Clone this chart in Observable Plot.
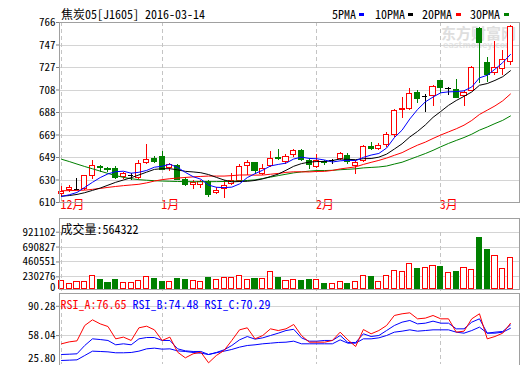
<!DOCTYPE html>
<html><head><meta charset="utf-8">
<script src="https://cdn.jsdelivr.net/npm/d3@7"></script>
<script src="https://cdn.jsdelivr.net/npm/@observablehq/plot@0.6"></script>
<style>
html,body{margin:0;padding:0;background:#fff;}
#wrap{position:relative;width:520px;height:365px;overflow:hidden;background:#fff;font-family:'Noto Sans Mono CJK SC','DejaVu Sans Mono',monospace;font-size:12px;color:#000;}
#wrap svg{position:absolute;left:0;top:0;}
.t{position:absolute;white-space:pre;line-height:12px;}
.sw{position:absolute;width:5px;height:3px;}
</style></head><body>
<div id="wrap">
 <div class="t" style="left:441px;top:25px;font-family:'Noto Sans CJK SC';font-size:15px;font-weight:bold;color:#dedede;line-height:15px">东方财富网</div>
 <div class="t" style="left:443px;top:42px;font-family:'DejaVu Sans';font-size:8px;line-height:8px;font-weight:bold;color:#e4e4e4;">eastmoney.com</div>
</div>
<script>
// ---------- data ----------
const monthStarts = [0, 13, 33, 49];
const monthLabels = ["12月", "1月", "2月", "3月"];
const priceTicks = [610, 629.5, 649, 668.5, 688, 707.5, 727, 746.5, 766];
const priceTickLabels = ["610", "630", "649", "669", "688", "708", "727", "747", "766"];
const volTicks = [0, 230276, 460551, 690827, 921102];
const rsiTicks = [25.80, 58.04, 90.28];

const open  = [617,620.8,621.6,621.6,633.2,640.5,639,639,631.7,633.2,631.2,644.2,647.7,649.1,639.6,641.9,629.4,625.1,625.5,627.4,618.1,621.6,625.9,628.8,641.9,644.2,634.6,641.9,648.8,644.7,651.4,654.3,646.2,640.4,645.1,646.2,647.6,650.5,641.3,645.6,658.4,656.6,659.5,668.2,689.9,691.3,705.2,701.5,702.3,715.1,708.7,707.8,702,706.4,760.8,731.3,722.6,725.5,731.9];
const high  = [624,624.5,630.9,633.8,646.5,642.5,640.5,641.3,636.1,635.2,646.8,660.4,650,654.3,644.2,642.7,631.7,628.8,629.5,628.8,623,628.8,635.2,643.3,646.2,644.7,643.3,654,655.7,652,656.3,656.3,648.2,652,646.8,647.6,653.4,652.6,646.2,659.2,662.1,661,671.1,690.8,700.9,708.7,707.3,703.5,711.6,716,710.1,716.5,707.3,727.5,761.4,735.3,749.2,741.4,763.1];
const low   = [614.4,619,620.2,620.2,630.3,636,636,630.3,630.3,629.4,630.3,643.3,644.2,637.5,637,628.8,623.9,621,622,614.4,617.3,613.8,624.5,627.4,633.2,634.6,633.2,640.4,646.8,643.3,649.1,645.6,639,639.8,641.9,643.3,646.2,643.3,634.6,644.7,654.9,655.2,658.1,666.7,682.6,689.9,695.7,687.9,692.8,704.4,702.9,700,692.8,705.8,713,713.9,720.3,719.7,729];
const close = [619.3,622.2,621.6,632.6,641.9,639.5,638.5,631.2,634.6,633.2,643.3,646.8,645.3,638.4,642.2,629.4,625.4,626.8,627.4,616.4,620.2,623.9,628.8,641,644.2,636.9,639,647.6,647.3,649.7,654.9,646.8,642.4,645.6,644.5,646.2,652,644.7,644.2,658.4,656.3,658.9,668.2,689.3,691,704.4,700,701.5,710.1,709.3,708.7,700.9,705.2,726.6,748.6,720.3,726.6,733.9,762.2];
const volume = [147000,82000,135000,135000,241000,159000,106000,159000,100000,100000,153000,223000,176000,123000,118000,176000,159000,147000,118000,194000,170000,194000,206000,241000,170000,176000,176000,312000,194000,147000,170000,141000,159000,159000,88000,82000,135000,88000,118000,241000,217000,118000,229000,329000,312000,453000,359000,382000,417000,406000,294000,317000,382000,353000,921102,711000,594000,370000,564322];

const ma5  = [615.2,616.7,618.7,623.1,627.5,631.6,634.8,636.7,637.1,635.4,636.2,637.8,640.6,641.4,643.2,640.4,636.1,632.4,630.2,625.1,623.2,622.9,623.3,626.1,631.6,635.0,638.0,641.7,643.0,644.1,647.7,649.3,648.2,647.9,646.8,645.1,646.1,646.6,646.3,649.1,651.1,652.5,657.2,666.2,672.7,682.4,690.6,697.2,701.4,705.1,705.9,706.1,706.8,710.1,718.0,720.3,725.5,731.2,738.3];
const ma10 = [615.5,616,617,618.5,620.5,622.5,625,627.5,629.5,631.5,633.9,636.3,638.7,639.3,639.3,638.3,637.0,636.5,635.8,634.2,631.8,629.5,627.9,628.2,628.4,629.1,630.5,632.5,634.6,637.9,641.4,643.7,645.0,645.5,645.5,646.4,647.7,647.4,647.1,648.0,648.1,649.3,651.9,656.3,660.9,666.8,671.6,677.2,683.8,688.9,694.2,698.4,702.0,705.8,711.6,713.1,715.8,719.0,724.2];
const ma20 = [620.2,620.3,620.5,620.7,621.4,622.2,623.1,623.9,624.6,625.2,625.8,627.0,628.6,629.8,630.6,631.2,631.7,632.2,632.6,632.9,632.9,632.9,633.3,633.8,633.9,633.7,633.8,634.5,635.2,636.1,636.6,636.6,636.5,636.9,637.0,637.8,639.1,640.0,640.9,643.0,644.8,646.5,648.5,650.9,653.2,656.6,659.7,662.3,665.5,668.5,671.2,673.9,677.0,681.1,686.3,690.0,693.7,698.1,704.0];
const ma30 = [647.5,645.5,643.3,641.2,639.2,637.2,635.2,633.3,631.8,630.6,629.8,629.3,628.9,628.6,628.4,628.2,628.1,628.0,628.0,628.0,628.1,628.2,628.4,628.7,629.1,629.6,630.8,632.0,633.3,634.5,635.7,636.5,637.2,637.7,637.7,637.9,638.4,638.8,639.2,640.0,640.4,640.8,641.6,643.3,644.9,647.4,649.9,652.4,655.2,658.3,661.2,663.8,666.3,669.2,672.7,675.4,678.4,681.2,685.0];

const rsiA = [50.3,52.8,54.1,73.9,81.2,76.0,72.6,56.7,58.9,54.6,70.9,73.0,68.3,54.6,58.9,39.5,32.2,37.4,39.5,25.8,35.2,41.7,54.6,68.3,70.9,56.7,61.0,69.6,67.4,69.6,75.2,61.0,52.4,52.4,52.4,54.6,65.3,55.4,46.8,68.7,63.2,67.4,73.9,86.8,89.0,90.28,82.5,83.4,86.8,82.5,82.5,65.3,66.6,82.5,89.0,56.7,59.7,64.0,76.65];
const rsiB = [36.5,36.9,37.4,48.1,56.7,55.8,54.6,49.0,50.3,49.0,56.7,58.4,58.4,54.6,54.6,43.8,41.2,40.4,40.4,36.5,39.1,42.5,48.1,55.4,59.7,56.3,58.0,61.0,64.0,67.4,69.0,58.0,53.7,53.7,54.6,54.6,61.0,52.0,52.0,63.2,59.7,61.0,67.4,73.9,78.2,80.4,76.0,76.9,79.5,76.9,76.9,69.6,69.6,78.2,82.5,64.0,65.3,66.2,74.48];
const rsiC = [28.8,29.2,29.6,35.2,40.8,40.4,39.9,38.7,38.7,39.1,40.8,43.8,44.7,43.4,43.8,41.2,40.4,39.1,38.2,36.5,38.7,40.8,43.0,46.0,48.1,49.0,50.3,51.1,52.0,52.4,53.7,50.3,50.3,50.3,50.3,50.3,55.4,51.1,51.1,56.7,56.7,58.0,61.0,65.3,66.6,68.3,66.6,67.4,68.3,68.3,68.3,65.3,64.0,67.4,71.8,64.0,64.0,65.3,70.29];

const maNames = ["5PMA", "10PMA", "20PMA", "30PMA"];
const title = "焦炭05[J1605] 2016-03-14";

// ---------- styles / layout ----------
const UP = "#ff0000", DOWN = "#008000", FLAT = "#000000", BLUE = "#0000ff";
const GRID = "#d4d4d4", FRAME = "#a0a0a0", DASH = "#c4c4c4", TICK = "#808080";
const maColors = [BLUE, "#000000", UP, DOWN];
const FONT = "'Noto Sans Mono CJK SC','DejaVu Sans Mono',monospace";
const W = 520, H = 365, XDOM = [-0.26, 59.17], HW = 0.33;

const candles = open.map((o, i) => ({i, o, h: high[i], l: low[i], c: close[i], v: volume[i]}));
const tone = d => d.c > d.o ? UP : d.c < d.o ? DOWN : FLAT;
const volTone = d => d.c >= d.o ? UP : DOWN;
const priceLabel = new Map(priceTicks.map((t, k) => [t, priceTickLabels[k]]));
const base = {
  width: W, height: H, marginLeft: 59, marginRight: 1,
  x: {domain: XDOM, axis: null},
  color: {type: "identity"},
  style: {background: "transparent", fontFamily: FONT, fontSize: "12px", color: "#000"}
};
const axisOpts = {anchor: "left", tickSize: 3, tickPadding: 1, color: "#000", stroke: TICK, fontSize: 11};
const crisp = {shapeRendering: "crispEdges"};

// ---------- price panel ----------
const main = Plot.plot({
  ...base, marginTop: 22, marginBottom: H - 202,
  y: {domain: [priceTicks[0], priceTicks[priceTicks.length - 1]], axis: null},
  marks: [
    Plot.ruleY(priceTicks, {stroke: GRID, ...crisp}),
    Plot.ruleX(monthStarts, {stroke: DASH, strokeDasharray: "4,3", ...crisp}),
    Plot.axisY(priceTicks, {...axisOpts, tickFormat: d => priceLabel.get(d)}),
    Plot.ruleX(candles, {x: "i", y1: "l", y2: "h", stroke: tone, ...crisp}),
    Plot.rect(candles.filter(d => d.o !== d.c), {
      x1: d => d.i - HW, x2: d => d.i + HW, y1: "o", y2: "c",
      fill: d => d.c > d.o ? "#ffffff" : DOWN, stroke: tone, ...crisp
    }),
    Plot.ruleY(candles.filter(d => d.o === d.c), {y: "o", x1: d => d.i - HW, x2: d => d.i + HW, stroke: FLAT, ...crisp}),
    ...[ma30, ma20, ma10, ma5].map((s, k) => Plot.line(s, {x: (d, i) => i, y: d => d, stroke: maColors[3 - k], strokeWidth: 1})),
    Plot.text(monthStarts, {x: d => d, text: (d, k) => monthLabels[k], frameAnchor: "bottom", dy: 6, dx: -1, textAnchor: "start", fill: UP}),
    Plot.frame({stroke: FRAME, ...crisp})
  ]
});

// ---------- volume panel ----------
const volAxis = Plot.plot({
  ...base, marginTop: 231.7, marginBottom: H - 291.2,
  y: {domain: [volTicks[0], volTicks[volTicks.length - 1]], axis: null},
  marks: [
    Plot.ruleY(volTicks.slice(1), {stroke: GRID, ...crisp}),
    Plot.ruleX(monthStarts, {stroke: DASH, strokeDasharray: "4,3", ...crisp}),
    Plot.axisY(volTicks.slice(1), {...axisOpts, tickFormat: d => String(d)}),
    Plot.axisY(volTicks.slice(0, 1), {...axisOpts, tickSize: 0, tickPadding: 4, dy: -4, tickFormat: d => String(d)})
  ]
});
const volData = Plot.plot({
  ...base, marginTop: 218, marginBottom: H - 289,
  y: {domain: [-9066, 1278300], axis: null},
  marks: [
    Plot.rect(candles, {
      x1: d => d.i - HW, x2: d => d.i + HW, y1: () => 0, y2: "v",
      fill: d => volTone(d) === UP ? "#ffffff" : DOWN, stroke: volTone, ...crisp
    }),
    Plot.text([volume[volume.length - 1]], {text: d => "成交量:" + d, frameAnchor: "top-left", dx: 1, dy: 7, textAnchor: "start", fill: "#000"}),
    Plot.frame({stroke: FRAME, ...crisp})
  ]
});

// ---------- RSI panel ----------
const rsiAxis = Plot.plot({
  ...base, marginTop: 305.8, marginBottom: H - 364.4,
  y: {domain: [rsiTicks[0], rsiTicks[2]], axis: null},
  marks: [
    Plot.ruleY(rsiTicks.slice(1), {stroke: GRID, ...crisp}),
    Plot.ruleX(monthStarts, {stroke: DASH, strokeDasharray: "4,3", ...crisp}),
    Plot.axisY(rsiTicks.slice(1), {...axisOpts, tickFormat: d => d.toFixed(2)}),
    Plot.axisY(rsiTicks.slice(0, 1), {...axisOpts, tickSize: 0, tickPadding: 4, dy: -6, tickFormat: d => d.toFixed(2)})
  ]
});
const rsiSeries = [["RSI_A", rsiA, UP], ["RSI_B", rsiB, BLUE], ["RSI_C", rsiC, BLUE]];
const rsiData = Plot.plot({
  ...base, marginTop: 293, marginBottom: 0.5,
  y: {domain: [22.96, 115.17], axis: null},
  marks: [
    ...[rsiSeries[2], rsiSeries[1], rsiSeries[0]].map(([n, s, c]) => Plot.line(s, {x: (d, i) => i, y: d => d, stroke: c, strokeWidth: 1})),
    ...rsiSeries.map(([n, s, c], k) => Plot.text([n + ":" + s[s.length - 1].toFixed(2)], {
      text: d => d, frameAnchor: "top-left", dx: 1 + 72 * k, dy: 7, textAnchor: "start", fill: c
    })),
    Plot.frame({stroke: FRAME, ...crisp})
  ]
});

const wrap = document.getElementById("wrap");
[main, volAxis, volData, rsiAxis, rsiData].forEach(s => wrap.appendChild(s));

// ---------- title and legend ----------
function label(text, x, y, color) {
  const d = document.createElement("div");
  d.className = "t"; d.textContent = text;
  d.style.left = x + "px"; d.style.top = y + "px"; if (color) d.style.color = color;
  wrap.appendChild(d);
}
label(title, 61, 8);
const legX = [332, 375, 422, 470], swX = [359, 408, 456, 504];
maNames.forEach((n, k) => {
  label(n, legX[k], 8);
  const s = document.createElement("div");
  s.className = "sw"; s.style.left = swX[k] + "px"; s.style.top = "13px"; s.style.background = maColors[k];
  wrap.appendChild(s);
});
</script></body></html>
